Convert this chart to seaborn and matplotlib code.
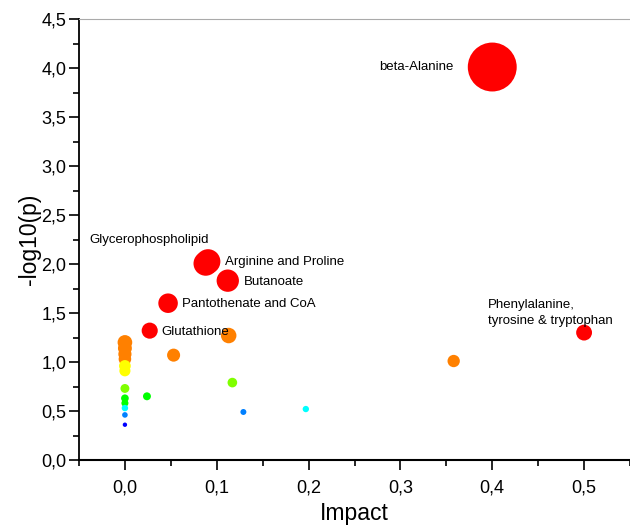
import numpy as np
import pandas as pd
import matplotlib
matplotlib.use("Agg")
import matplotlib.pyplot as plt
import seaborn as sns
from matplotlib.ticker import MultipleLocator, FuncFormatter

# ---- data ----
impact = [0.400, 0.0905, 0.0880, 0.112, 0.047, 0.027, 0.500,
          0.113, 0.053, 0.358,
          0.0, 0.0, 0.0, 0.0, 0.0, 0.0, 0.0, 0.0, 0.0, 0.0, 0.0, 0.0,
          0.024, 0.117, 0.129, 0.197]
neglogp = [4.01, 2.025, 2.005, 1.83, 1.60, 1.32, 1.30,
           1.27, 1.07, 1.01,
           1.20, 1.14, 1.08, 1.03, 0.96, 0.91, 0.73, 0.63, 0.58, 0.53, 0.46, 0.36,
           0.65, 0.79, 0.49, 0.52]
labels = ["beta-Alanine", "Arginine and Proline", "Glycerophospholipid", "Butanoate",
          "Pantothenate and CoA", "Glutathione", "Phenylalanine,\ntyrosine & tryptophan"]
xticks = [0.0, 0.1, 0.2, 0.3, 0.4, 0.5]
yticks = [0.0, 0.5, 1.0, 1.5, 2.0, 2.5, 3.0, 3.5, 4.0, 4.5]

df = pd.DataFrame({"Impact": impact, "p": neglogp})

# colour by -log10(p) bins (rainbow)
def colour(v):
    if v >= 1.28: return "#ff0000"
    if v >= 1.0: return "#ff8000"
    if v >= 0.85: return "#ffff00"
    if v >= 0.70: return "#80ff00"
    if v >= 0.56: return "#00ff00"
    if v >= 0.51: return "#00ffff"
    if v >= 0.42: return "#0080ff"
    return "#0000ff"

df["col"] = [colour(v) for v in df["p"]]
# marker diameter proportional to -log10(p)
diam_px = 12.2 * df["p"]
df["s"] = (diam_px / (100 / 72)) ** 2

plt.rcParams['font.family'] = ['Liberation Sans', 'DejaVu Sans']
fig = plt.figure(figsize=(6.3, 5.29), dpi=100)
ax = fig.add_axes([79 / 630, 1 - 460 / 529, 1 - 79 / 630, (460 - 19) / 529])

order = df.sort_values("p", ascending=False)
smin, smax = order["s"].min(), order["s"].max()
sns.scatterplot(data=order, x="Impact", y="p", hue="col", palette={c: c for c in order["col"].unique()},
                size="s", sizes=(smin, smax), size_norm=(smin, smax),
                linewidth=0, legend=False, ax=ax, zorder=3)

ax.set_xlim(-0.05, 0.55)
ax.set_ylim(0, 4.5)
ax.set_xticks(xticks)
ax.set_yticks(yticks)
ax.xaxis.set_minor_locator(MultipleLocator(0.05))
ax.yaxis.set_minor_locator(MultipleLocator(0.25))
fmt = FuncFormatter(lambda v, pos: f"{v:.1f}".replace(".", ","))
ax.xaxis.set_major_formatter(fmt)
ax.yaxis.set_major_formatter(fmt)
ax.tick_params(axis="both", which="major", direction="out", length=7, width=1.2, labelsize=13, colors="black")
ax.tick_params(axis="both", which="minor", direction="out", length=4, width=1.2)
ax.tick_params(axis="x", pad=7)
ax.tick_params(axis="y", pad=2)
ax.spines["right"].set_visible(False)
ax.spines["top"].set_color("#aaaaaa")
ax.spines["top"].set_linewidth(0.8)
ax.spines["left"].set_linewidth(1.3)
ax.spines["bottom"].set_linewidth(1.5)
ax.set_xlabel("Impact", fontsize=16.5, labelpad=4)
ax.set_ylabel("-log10(p)", fontsize=16.5, labelpad=0)

fs = 9.5
ax.text(0.358, 4.01, labels[0], fontsize=fs, ha="right", va="center")
ax.text(0.109, 2.02, labels[1], fontsize=fs, ha="left", va="center")
ax.text(-0.039, 2.24, labels[2], fontsize=fs, ha="left", va="center")
ax.text(0.129, 1.82, labels[3], fontsize=fs, ha="left", va="center")
ax.text(0.062, 1.595, labels[4], fontsize=fs, ha="left", va="center")
ax.text(0.040, 1.305, labels[5], fontsize=fs, ha="left", va="center")
ax.text(0.395, 1.50, labels[6], fontsize=fs, ha="left", va="center", linespacing=1.35)

fig.savefig("out.png", dpi=100)
